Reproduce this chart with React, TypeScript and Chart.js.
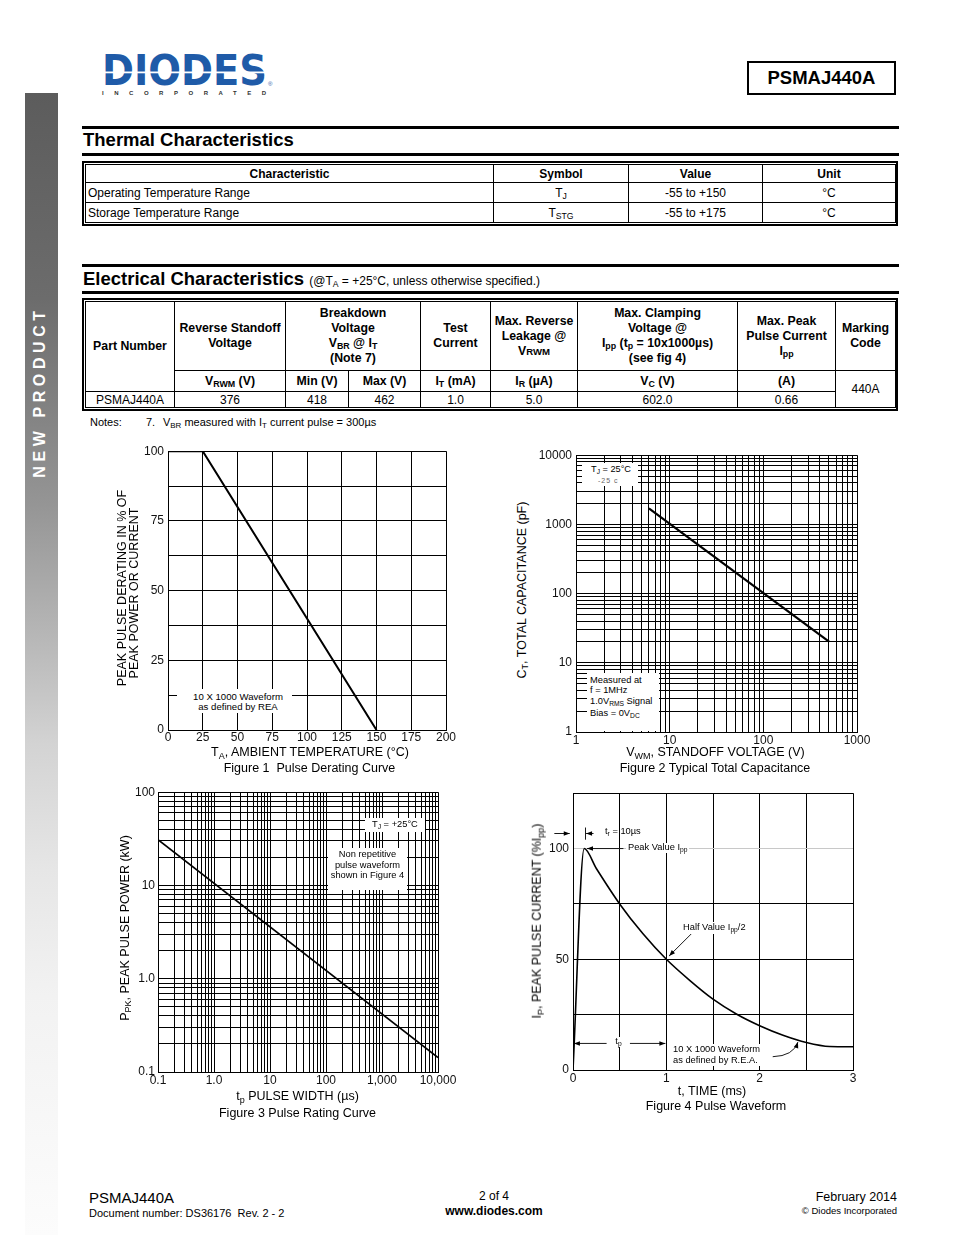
import React, { useEffect, useRef } from "react";
import { Chart, registerables } from "chart.js";

Chart.register(...registerables);

const FONT = "'Liberation Sans', Arial, Helvetica, sans-serif";

/* ---------------- data ---------------- */
// Figure 1 - Pulse Derating Curve
const fig1AmbientTemp = [0, 25, 150];
const fig1DeratingPct = [100, 100, 0];
const fig1XGrid = [0, 25, 50, 75, 100, 125, 150, 175, 200];
const fig1XLabels = ["0", "25", "50", "75", "100", "125", "150", "175", "200"];
const fig1YGrid = [0, 12.5, 25, 37.5, 50, 62.5, 75, 87.5, 100];
const fig1YLabelValues = [0, 25, 50, 75, 100];
const fig1YLabels = ["0", "25", "50", "75", "100"];

// Figure 2 - Typical Total Capacitance
const fig2StandoffV = [6, 507];
const fig2CapacitancePF = [1700, 20];
const fig2XDecades = [1, 10, 100, 1000];
const fig2XLabels = ["1", "10", "100", "1000"];
const fig2YDecades = [1, 10, 100, 1000, 10000];
const fig2YLabels = ["1", "10", "100", "1000", "10000"];

// Figure 3 - Pulse Rating Curve
const fig3PulseWidthUs = [0.1, 10000];
const fig3PeakPowerKW = [31, 0.143];
const fig3XDecades = [0.1, 1, 10, 100, 1000, 10000];
const fig3XLabels = ["0.1", "1.0", "10", "100", "1,000", "10,000"];
const fig3YDecades = [0.1, 1, 10, 100];
const fig3YLabels = ["0.1", "1.0", "10", "100"];

// Figure 4 - Pulse Waveform
const fig4TimeMs = [0, 0.12, 0.25, 0.5, 0.75, 1.0, 1.25, 1.5, 1.75, 2.0, 2.25, 2.5, 2.75, 3.0];
const fig4CurrentPct = [0, 100, 91, 75, 61.5, 50, 40.5, 32, 25.3, 20, 15.7, 12.4, 10.6, 10.5];
const fig4XGrid = [0, 0.5, 1, 1.5, 2, 2.5, 3];
const fig4XLabelValues = [0, 1, 2, 3];
const fig4XLabels = ["0", "1", "2", "3"];
const fig4YGrid = [0, 25, 50, 75, 100, 125];
const fig4YLabelValues = [0, 50, 100];
const fig4YLabels = ["0", "50", "100"];

// Figure 4 annotation arrows (data coordinates)
const fig4Arrows: { from: [number, number]; to: [number, number]; ctrl?: [number, number] }[] = [
  { from: [0.36, 12], to: [0.01, 12] },
  { from: [0.61, 12], to: [0.99, 12] },
  { from: [0.54, 100], to: [0.15, 100] },
  { from: [1.28, 62], to: [1.03, 51.5] },
  { from: [0.22, 106.8], to: [0.14, 106.8] },
  { from: [-0.2, 106.8], to: [-0.035, 106.8] },
  { from: [2.14, 6.0], ctrl: [2.36, 6.3], to: [2.41, 12.6] },
];
const fig4Bars = [{ x: 0.129, y1: 104, y2: 109.5 }];

// Tables
const thermalColWidths = [408, 135, 134, 133];
const thermalHeaders = ["Characteristic", "Symbol", "Value", "Unit"];
const thermalNames = ["Operating Temperature Range", "Storage Temperature Range"];
const thermalSymbols: [string, string][] = [["T", "J"], ["T", "STG"]];
const thermalValues = ["-55 to +150", "-55 to +175"];
const thermalUnits = ["°C", "°C"];

const elecColWidths = [89, 111, 63, 72, 70, 87, 160, 98, 60];
const elecPart = "PSMAJ440A";
const elecValues = ["376", "418", "462", "1.0", "5.0", "602.0", "0.66"];
const elecMarking = "440A";

/* ---------------- helpers ---------------- */
type Geo = { L: number; T: number; R: number; B: number };
const YW = 44;
const XH = 22;
const PT = 10;
const PR = 26;

const canvasBox = (g: Geo) => ({
  left: g.L - YW,
  top: g.T - PT,
  width: g.R - g.L + YW + PR,
  height: g.B - g.T + PT + XH,
});

const logGrid = (decades: number[]) => {
  const out: number[] = [];
  decades.forEach((d, i) => {
    if (i === decades.length - 1) {
      out.push(d);
      return;
    }
    for (let k = 1; k <= 9; k++) out.push(k === 1 ? d : d * k);
  });
  return out;
};

const lookup = (vals: number[], labels: string[], v: number) => {
  for (let i = 0; i < vals.length; i++) {
    if (Math.abs(vals[i] - v) <= 1e-9 * Math.max(1, Math.abs(vals[i]))) return labels[i];
  }
  return "";
};

function makeScale(o: {
  type: "linear" | "logarithmic";
  axis: "x" | "y";
  min: number;
  max: number;
  grid: number[];
  labelValues: number[];
  labels: string[];
  padding: number;
  gridColor?: (v: number) => string;
}) {
  return {
    type: o.type,
    position: o.axis === "x" ? "bottom" : "left",
    min: o.min,
    max: o.max,
    afterBuildTicks: (scale: any) => {
      scale.ticks = o.grid.map((v) => ({ value: v }));
    },
    afterFit: (scale: any) => {
      if (o.axis === "x") scale.height = XH;
      else scale.width = YW;
    },
    grid: {
      color: (ctx: any) => (o.gridColor && ctx.tick ? o.gridColor(ctx.tick.value) : "#000"),
      lineWidth: 1,
      drawTicks: false,
    },
    border: { display: true, color: "#000", width: 1 },
    ticks: {
      autoSkip: false,
      maxRotation: 0,
      minRotation: 0,
      padding: o.padding,
      color: "#111",
      font: { family: FONT, size: 12 },
      callback: (value: any) => lookup(o.labelValues, o.labels, Number(value)),
    },
  };
}

function lineConfig(xs: number[], ys: number[], width: number, x: any, y: any, extra: any = {}) {
  return {
    type: "line",
    data: {
      datasets: [
        {
          data: xs.map((v, i) => ({ x: v, y: ys[i] })),
          borderColor: "#000",
          borderWidth: width,
          pointRadius: 0,
          fill: false,
          tension: 0,
          ...extra,
        },
      ],
    },
    options: {
      responsive: false,
      animation: false,
      events: [],
      layout: { padding: { left: 0, top: PT, right: PR, bottom: 0 } },
      plugins: { legend: { display: false }, tooltip: { enabled: false }, title: { display: false } },
      scales: { x, y },
    },
  };
}

const arrowPlugin = {
  id: "fig4arrows",
  afterDraw(chart: any) {
    const ctx = chart.ctx;
    const xs = chart.scales.x;
    const ys = chart.scales.y;
    ctx.save();
    ctx.strokeStyle = "#000";
    ctx.fillStyle = "#000";
    ctx.lineWidth = 0.9;
    for (const a of fig4Arrows) {
      const x1 = xs.getPixelForValue(a.from[0]);
      const y1 = ys.getPixelForValue(a.from[1]);
      const x2 = xs.getPixelForValue(a.to[0]);
      const y2 = ys.getPixelForValue(a.to[1]);
      let ang: number;
      ctx.beginPath();
      ctx.moveTo(x1, y1);
      if (a.ctrl) {
        const cx = xs.getPixelForValue(a.ctrl[0]);
        const cy = ys.getPixelForValue(a.ctrl[1]);
        ctx.quadraticCurveTo(cx, cy, x2, y2);
        ang = Math.atan2(y2 - cy, x2 - cx);
      } else {
        ctx.lineTo(x2, y2);
        ang = Math.atan2(y2 - y1, x2 - x1);
      }
      ctx.stroke();
      const len = 6;
      const w = 2.3;
      ctx.beginPath();
      ctx.moveTo(x2, y2);
      ctx.lineTo(x2 - len * Math.cos(ang) + w * Math.sin(ang), y2 - len * Math.sin(ang) - w * Math.cos(ang));
      ctx.lineTo(x2 - len * Math.cos(ang) - w * Math.sin(ang), y2 - len * Math.sin(ang) + w * Math.cos(ang));
      ctx.closePath();
      ctx.fill();
    }
    for (const b of fig4Bars) {
      const x = Math.round(xs.getPixelForValue(b.x)) + 0.5;
      ctx.beginPath();
      ctx.moveTo(x, ys.getPixelForValue(b.y1));
      ctx.lineTo(x, ys.getPixelForValue(b.y2));
      ctx.stroke();
    }
    ctx.restore();
  },
};

function ChartBox({ geo, config }: { geo: Geo; config: any }) {
  const ref = useRef<HTMLCanvasElement>(null);
  const box = canvasBox(geo);
  useEffect(() => {
    const chart = new Chart(ref.current as HTMLCanvasElement, config);
    return () => chart.destroy();
  }, []);
  return (
    <div style={{ position: "absolute", left: box.left, top: box.top, width: box.width, height: box.height }}>
      <canvas ref={ref} width={box.width} height={box.height} style={{ display: "block", width: box.width, height: box.height }} />
    </div>
  );
}

function Sub({ children, size = 0.72 }: { children: any; size?: number }) {
  return (
    <span style={{ fontSize: `${size}em`, verticalAlign: "-0.28em", lineHeight: 0 }}>{children}</span>
  );
}

function Txt({
  x,
  y,
  size = 12,
  bold = false,
  align = "left",
  bg,
  color = "#000",
  children,
  style,
}: {
  x: number;
  y: number;
  size?: number;
  bold?: boolean;
  align?: "left" | "center" | "right";
  bg?: string;
  color?: string;
  children: any;
  style?: any;
}) {
  const transform = align === "center" ? "translateX(-50%)" : align === "right" ? "translateX(-100%)" : undefined;
  return (
    <div
      style={{
        position: "absolute",
        left: x,
        top: y - size / 2,
        fontSize: size,
        lineHeight: `${size}px`,
        fontWeight: bold ? 700 : 400,
        whiteSpace: "nowrap",
        transform,
        fontFamily: FONT,
        color,
        background: bg,
        ...style,
      }}
    >
      {children}
    </div>
  );
}

function VTxt({ x, y, size = 12.5, children }: { x: number; y: number; size?: number; children: any }) {
  return (
    <div
      style={{
        position: "absolute",
        left: x,
        top: y,
        fontSize: size,
        lineHeight: `${size}px`,
        whiteSpace: "nowrap",
        fontFamily: FONT,
        transform: "translate(-50%, -50%) rotate(-90deg)",
      }}
    >
      {children}
    </div>
  );
}

function WhiteBox({ x, y, w, h }: { x: number; y: number; w: number; h: number }) {
  return <div style={{ position: "absolute", left: x, top: y, width: w, height: h, background: "#fff" }} />;
}

function Rule({ y, h = 3 }: { y: number; h?: number }) {
  return <div style={{ position: "absolute", left: 82, top: y, width: 817, height: h, background: "#000" }} />;
}

/* ---------------- chart configs ---------------- */
const geo1: Geo = { L: 168, T: 450, R: 446, B: 730 };
const geo2: Geo = { L: 576, T: 454, R: 857, B: 732 };
const geo3: Geo = { L: 158, T: 792, R: 438, B: 1072 };
const geo4: Geo = { L: 573, T: 792, R: 853, B: 1070 };

const cfg1 = lineConfig(
  fig1AmbientTemp,
  fig1DeratingPct,
  2,
  makeScale({ type: "linear", axis: "x", min: 0, max: 200, grid: fig1XGrid, labelValues: fig1XGrid, labels: fig1XLabels, padding: 0 }),
  makeScale({ type: "linear", axis: "y", min: 0, max: 100, grid: fig1YGrid, labelValues: fig1YLabelValues, labels: fig1YLabels, padding: 4 })
);

const cfg2 = lineConfig(
  fig2StandoffV,
  fig2CapacitancePF,
  2.2,
  makeScale({ type: "logarithmic", axis: "x", min: 1, max: 1000, grid: logGrid(fig2XDecades), labelValues: fig2XDecades, labels: fig2XLabels, padding: 1 }),
  makeScale({ type: "logarithmic", axis: "y", min: 1, max: 10000, grid: logGrid(fig2YDecades), labelValues: fig2YDecades, labels: fig2YLabels, padding: 4 })
);

const cfg3 = lineConfig(
  fig3PulseWidthUs,
  fig3PeakPowerKW,
  1.6,
  makeScale({ type: "logarithmic", axis: "x", min: 0.1, max: 10000, grid: logGrid(fig3XDecades), labelValues: fig3XDecades, labels: fig3XLabels, padding: 1 }),
  makeScale({ type: "logarithmic", axis: "y", min: 0.1, max: 100, grid: logGrid(fig3YDecades), labelValues: fig3YDecades, labels: fig3YLabels, padding: 3 })
);

const cfg4: any = lineConfig(
  fig4TimeMs,
  fig4CurrentPct,
  1.6,
  makeScale({ type: "linear", axis: "x", min: 0, max: 3, grid: fig4XGrid, labelValues: fig4XLabelValues, labels: fig4XLabels, padding: 1 }),
  makeScale({
    type: "linear",
    axis: "y",
    min: 0,
    max: 125,
    grid: fig4YGrid,
    labelValues: fig4YLabelValues,
    labels: fig4YLabels,
    padding: 4,
    gridColor: (v) => (v === 100 ? "#c8c8c8" : "#000"),
  }),
  { cubicInterpolationMode: "monotone" }
);
cfg4.plugins = [arrowPlugin];

/* ---------------- tables ---------------- */
const cell: any = {
  border: "1px solid #000",
  padding: "0 2px",
  textAlign: "center",
  verticalAlign: "middle",
  whiteSpace: "nowrap",
  overflow: "hidden",
};

function ThermalTable() {
  return (
    <div style={{ position: "absolute", left: 82, top: 161, width: 816, boxSizing: "border-box", border: "2px solid #000", padding: 1 }}>
      <table style={{ borderCollapse: "collapse", tableLayout: "fixed", width: 810, fontFamily: FONT, fontSize: 12, lineHeight: "14px" }}>
        <colgroup>
          {thermalColWidths.map((w, i) => (
            <col key={i} style={{ width: w }} />
          ))}
        </colgroup>
        <tbody>
          <tr>
            {thermalHeaders.map((h, i) => (
              <td key={i} style={{ ...cell, height: 17, fontWeight: 700 }}>
                {h}
              </td>
            ))}
          </tr>
          {thermalNames.map((n, r) => (
            <tr key={r}>
              <td style={{ ...cell, height: 19, textAlign: "left" }}>{n}</td>
              <td style={{ ...cell, height: 19 }}>
                {thermalSymbols[r][0]}
                <Sub>{thermalSymbols[r][1]}</Sub>
              </td>
              <td style={{ ...cell, height: 19 }}>{thermalValues[r]}</td>
              <td style={{ ...cell, height: 19 }}>{thermalUnits[r]}</td>
            </tr>
          ))}
        </tbody>
      </table>
    </div>
  );
}

function ElectricalTable() {
  const h: any = { ...cell, fontWeight: 700, lineHeight: "15px", fontSize: 12.3 };
  return (
    <div style={{ position: "absolute", left: 82, top: 298, width: 816, boxSizing: "border-box", border: "2px solid #000", padding: 1 }}>
      <table style={{ borderCollapse: "collapse", tableLayout: "fixed", width: 810, fontFamily: FONT, fontSize: 12, lineHeight: "14px" }}>
        <colgroup>
          {elecColWidths.map((w, i) => (
            <col key={i} style={{ width: w }} />
          ))}
        </colgroup>
        <tbody>
          <tr>
            <td rowSpan={2} style={h}>
              Part Number
            </td>
            <td style={{ ...h, height: 68 }}>
              Reverse Standoff
              <br />
              Voltage
            </td>
            <td colSpan={2} style={h}>
              Breakdown
              <br />
              Voltage
              <br />
              V<Sub>BR</Sub> @ I<Sub>T</Sub>
              <br />
              (Note 7)
            </td>
            <td style={h}>
              Test
              <br />
              Current
            </td>
            <td style={h}>
              Max. Reverse
              <br />
              Leakage @
              <br />
              V<span style={{ fontSize: "0.78em" }}>RWM</span>
            </td>
            <td style={h}>
              Max. Clamping
              <br />
              Voltage @
              <br />
              I<Sub>pp</Sub> (t<Sub>p</Sub> = 10x1000µs)
              <br />
              (see fig 4)
            </td>
            <td style={h}>
              Max. Peak
              <br />
              Pulse Current
              <br />
              I<Sub>pp</Sub>
            </td>
            <td style={h}>
              Marking
              <br />
              Code
            </td>
          </tr>
          <tr>
            <td style={{ ...h, height: 20 }}>
              V<Sub>RWM</Sub> (V)
            </td>
            <td style={h}>Min (V)</td>
            <td style={h}>Max (V)</td>
            <td style={h}>
              I<Sub>T</Sub> (mA)
            </td>
            <td style={h}>
              I<Sub>R</Sub> (µA)
            </td>
            <td style={h}>
              V<Sub>C</Sub> (V)
            </td>
            <td style={h}>(A)</td>
            <td rowSpan={2} style={cell}>
              {elecMarking}
            </td>
          </tr>
          <tr>
            <td style={{ ...cell, height: 15 }}>{elecPart}</td>
            {elecValues.map((v, i) => (
              <td key={i} style={cell}>
                {v}
              </td>
            ))}
          </tr>
        </tbody>
      </table>
    </div>
  );
}

/* ---------------- page ---------------- */
export default function App() {
  return (
    <div style={{ position: "absolute", left: 0, top: 0, width: 954, height: 1235, background: "#fff", fontFamily: FONT, overflow: "hidden" }}>
      {/* side bar */}
      <div
        style={{
          position: "absolute",
          left: 25,
          top: 93,
          width: 33,
          height: 1142,
          background:
            "linear-gradient(to bottom, #5c5c5c 0%, #6c6c6c 18%, #959595 36%, #b8b8b8 48%, #d3d3d3 57%, #e6e6e6 68%, #f2f2f2 79%, #fcfcfc 100%)",
        }}
      />
      <div
        style={{
          position: "absolute",
          left: 40,
          top: 392,
          transform: "translate(-50%, -50%) rotate(-90deg)",
          color: "#fff",
          fontWeight: 700,
          fontSize: 16,
          letterSpacing: 4.6,
          lineHeight: "16px",
          whiteSpace: "nowrap",
          fontFamily: FONT,
        }}
      >
        NEW PRODUCT
      </div>

      {/* logo */}
      <svg style={{ position: "absolute", left: 98, top: 50 }} width={185} height={50}>
        <text x={4} y={35} textLength={165} lengthAdjust="spacingAndGlyphs" fontFamily="'DejaVu Sans', 'Liberation Sans', Arial" fontWeight={700} fontSize={43} fill="#1f5ba8">
          DIODES
        </text>
        <rect x={0} y={21.5} width={175} height={1.8} fill="#fff" />
        <text x={170} y={36} fontSize={6} fill="#1f5ba8" fontFamily="'Liberation Sans', Arial">
          ®
        </text>
        <text x={4} y={45} textLength={164} lengthAdjust="spacing" fontSize={6} fontWeight={700} fill="#333" fontFamily="'Liberation Sans', Arial">
          INCORPORATED
        </text>
      </svg>

      {/* part number box */}
      <div
        style={{
          position: "absolute",
          left: 747,
          top: 61,
          width: 149,
          height: 34,
          boxSizing: "border-box",
          border: "2px solid #000",
          display: "flex",
          alignItems: "center",
          justifyContent: "center",
          fontWeight: 700,
          fontSize: 18.5,
          fontFamily: FONT,
        }}
      >
        PSMAJ440A
      </div>

      {/* Thermal */}
      <Rule y={126} />
      <Txt x={83} y={140.5} size={18.5} bold>
        Thermal Characteristics
      </Txt>
      <Rule y={153} />
      <ThermalTable />

      {/* Electrical */}
      <Rule y={264} />
      <Txt x={83} y={279} size={18.5} bold>
        Electrical Characteristics{" "}
        <span style={{ fontSize: 12, fontWeight: 400 }}>
          (@T<Sub>A</Sub> = +25°C, unless otherwise specified.)
        </span>
      </Txt>
      <Rule y={291} />
      <ElectricalTable />

      {/* notes */}
      <Txt x={90} y={422} size={11}>
        Notes:
      </Txt>
      <Txt x={146} y={422} size={11}>
        7.
      </Txt>
      <Txt x={163} y={422} size={11}>
        V<Sub>BR</Sub> measured with I<Sub>T</Sub> current pulse = 300µs
      </Txt>

      {/* charts */}
      <ChartBox geo={geo1} config={cfg1} />
      <ChartBox geo={geo2} config={cfg2} />
      <ChartBox geo={geo3} config={cfg3} />
      <ChartBox geo={geo4} config={cfg4} />

      {/* Figure 1 overlays */}
      <WhiteBox x={177} y={689} w={115} h={24} />
      <Txt x={238} y={697} size={9.6} align="center">
        10 X 1000 Waveform
      </Txt>
      <Txt x={238} y={707} size={9.6} align="center">
        as defined by REA
      </Txt>
      <VTxt x={122} y={588}>PEAK PULSE DERATING IN % OF</VTxt>
      <VTxt x={134} y={592.5}>PEAK POWER OR CURRENT</VTxt>
      <Txt x={310} y={752} size={12.5} align="center">
        T<Sub>A</Sub>, AMBIENT TEMPERATURE (°C)
      </Txt>
      <Txt x={309.5} y={768.5} size={12.5} align="center">
        Figure 1&nbsp; Pulse Derating Curve
      </Txt>

      {/* Figure 2 overlays */}
      <WhiteBox x={582} y={463} w={56} h={23} />
      <Txt x={591} y={469.5} size={9.2}>
        T<Sub>J</Sub> = 25°C
      </Txt>
      <Txt x={598} y={480} size={7} color="#666" style={{ letterSpacing: 1 }}>
        -25 c
      </Txt>
      <WhiteBox x={587} y={673} w={72} h={58} />
      <Txt x={590} y={681} size={9.3}>
        Measured at
      </Txt>
      <Txt x={590} y={691} size={9.3}>
        f = 1MHz
      </Txt>
      <Txt x={590} y={702} size={9.3}>
        1.0V<Sub>RMS</Sub> Signal
      </Txt>
      <Txt x={590} y={714} size={9.3}>
        Bias = 0V<Sub>DC</Sub>
      </Txt>
      <VTxt x={521.5} y={590}>
        C<Sub>T</Sub>, TOTAL CAPACITANCE (pF)
      </VTxt>
      <Txt x={715.5} y={752} size={12.5} align="center">
        V<Sub>WM</Sub>, STANDOFF VOLTAGE (V)
      </Txt>
      <Txt x={715} y={768.5} size={12.5} align="center">
        Figure 2 Typical Total Capacitance
      </Txt>

      {/* Figure 3 overlays */}
      <WhiteBox x={365} y={818} w={60} h={14} />
      <Txt x={372} y={824.5} size={9.3}>
        T<Sub>J</Sub> = +25°C
      </Txt>
      <WhiteBox x={328} y={848} w={79} h={42} />
      <Txt x={367.5} y={855} size={9.3} align="center">
        Non repetitive
      </Txt>
      <Txt x={367.5} y={865.5} size={9.3} align="center">
        pulse waveform
      </Txt>
      <Txt x={367.5} y={876} size={9.3} align="center">
        shown in Figure 4
      </Txt>
      <VTxt x={124.5} y={928}>
        P<Sub>PK</Sub>, PEAK PULSE POWER (kW)
      </VTxt>
      <Txt x={297.5} y={1096} size={12.5} align="center">
        t<Sub>p</Sub> PULSE WIDTH (µs)
      </Txt>
      <Txt x={297.5} y={1113} size={12.5} align="center">
        Figure 3 Pulse Rating Curve
      </Txt>

      {/* Figure 4 overlays */}
      <Txt x={605} y={832} size={9.3}>
        t<Sub>r</Sub> = 10µs
      </Txt>
      <Txt x={626} y={848} size={9.3} bg="#fff" style={{ padding: "0 2px" }}>
        Peak Value I<Sub>pp</Sub>
      </Txt>
      <Txt x={681} y={927} size={9.3} bg="#fff" style={{ padding: "1px 2px" }}>
        Half Value I<Sub>pp</Sub>/2
      </Txt>
      <Txt x={618.5} y={1042} size={9.3} align="center" bg="#fff" style={{ padding: "0 2px" }}>
        t<Sub>p</Sub>
      </Txt>
      <WhiteBox x={671} y={1044} w={95} h={22} />
      <Txt x={673} y={1050} size={9.3}>
        10 X 1000 Waveform
      </Txt>
      <Txt x={673} y={1060.5} size={9.3}>
        as defined by R.E.A.
      </Txt>
      <VTxt x={537} y={921}>
        I<Sub>P</Sub>, PEAK PULSE CURRENT (%I<Sub>pp</Sub>)
      </VTxt>
      <Txt x={712} y={1091.5} size={12.5} align="center">
        t, TIME (ms)
      </Txt>
      <Txt x={716} y={1106.5} size={12.5} align="center">
        Figure 4 Pulse Waveform
      </Txt>

      {/* footer */}
      <Txt x={89} y={1197} size={15}>
        PSMAJ440A
      </Txt>
      <Txt x={89} y={1213} size={11}>
        Document number: DS36176&nbsp; Rev. 2 - 2
      </Txt>
      <Txt x={494} y={1196} size={12} align="center">
        2 of 4
      </Txt>
      <Txt x={494} y={1211} size={12} bold align="center">
        www.diodes.com
      </Txt>
      <Txt x={897} y={1197} size={12.5} align="right">
        February 2014
      </Txt>
      <Txt x={897} y={1211} size={9.5} align="right">
        © Diodes Incorporated
      </Txt>
    </div>
  );
}
